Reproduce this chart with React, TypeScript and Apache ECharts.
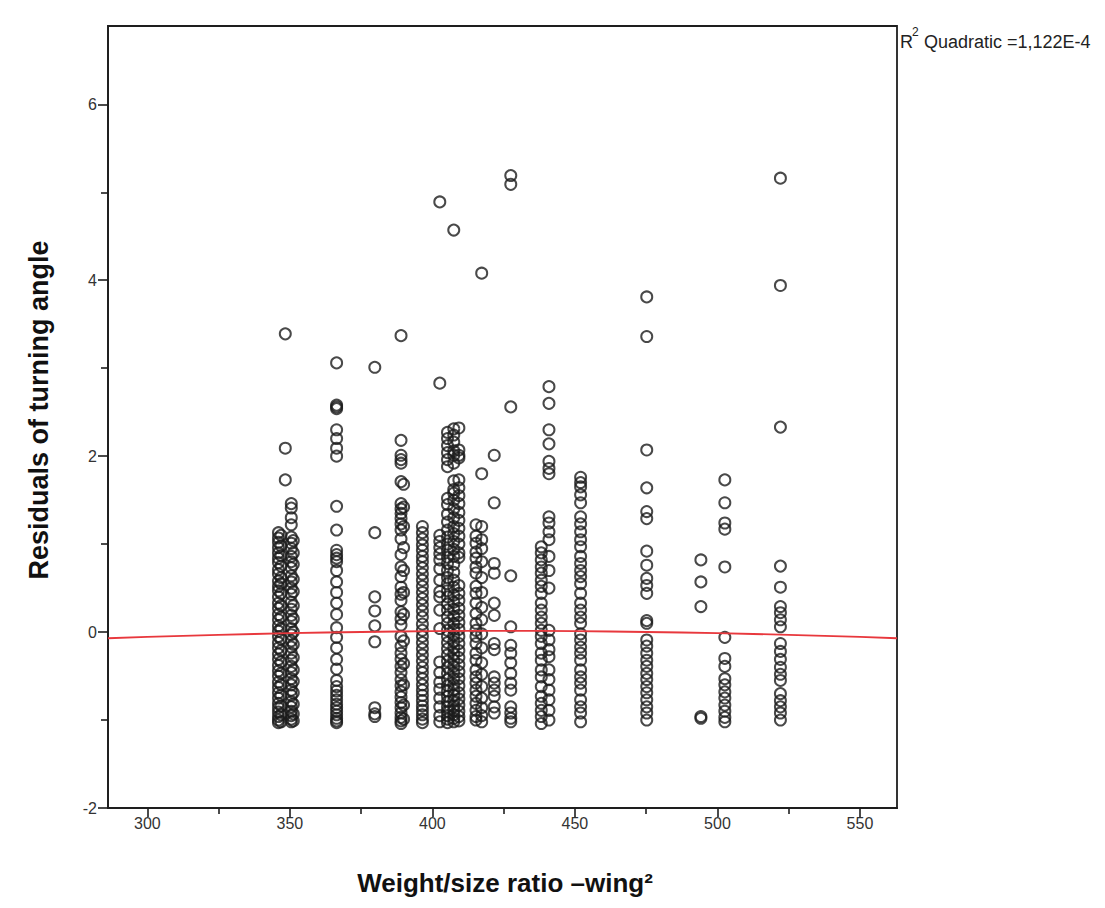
import React, { useEffect, useRef } from "react";
import * as echarts from "echarts";

// ---- axis ticks ----
const xMajorTicks = [300, 350, 400, 450, 500, 550];
const xMinorTicks = [325, 375, 425, 475, 525];
const yMajorTicks = [-2, 0, 2, 4, 6];
const yMinorTicks = [-1, 1, 3, 5];

// ---- residuals, one array per weight/size ratio column ----
const col346 = [1.13, 1.07, 1.02, 0.96, 0.9, 0.84, 0.79, 0.71, 0.66, 0.58, 0.52, 0.47, 0.4, 0.33, 0.27, 0.2, 0.14, 0.07, 0.01, -0.05, -0.12, -0.18, -0.25, -0.31, -0.38, -0.44, -0.5, -0.57, -0.63, -0.69, -0.75, -0.81, -0.86, -0.91, -0.96, -1.0, -1.03];
const col347 = [1.1, 0.98, 0.87, 0.75, 0.62, 0.55, 0.44, 0.3, 0.17, 0.04, -0.08, -0.21, -0.34, -0.47, -0.6, -0.72, -0.84, -0.94, -1.02];
const col348 = [3.39, 2.09, 1.73];
const col350 = [1.46, 1.41, 1.3, 1.22, 1.08, 1.01, 0.95, 0.86, 0.8, 0.73, 0.64, 0.57, 0.5, 0.43, 0.34, 0.26, 0.19, 0.12, 0.04, -0.03, -0.1, -0.17, -0.24, -0.32, -0.39, -0.46, -0.53, -0.6, -0.66, -0.72, -0.79, -0.85, -0.9, -0.95, -0.99, -1.02];
const col351 = [1.04, 0.9, 0.77, 0.6, 0.46, 0.3, 0.15, 0.0, -0.14, -0.29, -0.43, -0.56, -0.69, -0.82, -0.93, -1.01];
const col366 = [3.06, 2.58, 2.56, 2.54, 2.3, 2.2, 2.09, 2.0, 1.43, 1.16, 0.93, 0.88, 0.84, 0.8, 0.7, 0.57, 0.45, 0.33, 0.2, 0.05, -0.06, -0.18, -0.31, -0.42, -0.55, -0.62, -0.67, -0.72, -0.77, -0.82, -0.86, -0.9, -0.94, -0.98, -1.01, -1.03];
const col380 = [3.01, 1.13, 0.4, 0.24, 0.07, -0.11, -0.86, -0.93, -0.96];
const col389 = [3.37, 2.18, 2.01, 1.96, 1.92, 1.71, 1.46, 1.4, 1.35, 1.29, 1.23, 1.16, 1.06, 0.88, 0.74, 0.63, 0.51, 0.43, 0.36, 0.23, 0.15, 0.08, -0.05, -0.16, -0.24, -0.31, -0.39, -0.46, -0.54, -0.61, -0.68, -0.74, -0.8, -0.86, -0.92, -0.97, -1.01, -1.04];
const col390 = [1.68, 1.42, 1.2, 0.96, 0.7, 0.45, 0.2, -0.1, -0.36, -0.6, -0.83, -0.99];
const col396 = [1.2, 1.13, 1.06, 0.99, 0.93, 0.86, 0.8, 0.73, 0.66, 0.59, 0.52, 0.45, 0.38, 0.31, 0.24, 0.17, 0.09, 0.02, -0.05, -0.12, -0.19, -0.26, -0.33, -0.4, -0.46, -0.53, -0.6, -0.66, -0.72, -0.78, -0.84, -0.89, -0.94, -0.99, -1.03];
const col402 = [4.89, 2.83, 1.1, 1.03, 0.96, 0.89, 0.82, 0.72, 0.59, 0.46, 0.4, 0.25, 0.04, -0.34, -0.46, -0.57, -0.65, -0.75, -0.85, -0.95, -1.02];
const col405 = [2.27, 2.2, 2.12, 2.04, 1.96, 1.88, 1.52, 1.45, 1.34, 1.25, 1.16, 1.08, 1.0, 0.93, 0.85, 0.78, 0.7, 0.62, 0.55, 0.47, 0.4, 0.32, 0.25, 0.17, 0.1, 0.02, -0.05, -0.12, -0.19, -0.26, -0.33, -0.4, -0.47, -0.54, -0.61, -0.67, -0.73, -0.79, -0.85, -0.9, -0.95, -0.99, -1.03];
const col407 = [4.57, 2.31, 2.24, 2.16, 2.06, 2.01, 1.92, 1.72, 1.62, 1.58, 1.5, 1.4, 1.3, 1.2, 1.12, 1.03, 0.94, 0.86, 0.77, 0.68, 0.59, 0.51, 0.42, 0.34, 0.26, 0.18, 0.1, 0.03, -0.04, -0.11, -0.18, -0.25, -0.32, -0.39, -0.46, -0.53, -0.6, -0.66, -0.72, -0.78, -0.84, -0.89, -0.94, -0.98, -1.02];
const col409 = [2.32, 2.07, 2.01, 1.98, 1.73, 1.64, 1.55, 1.46, 1.36, 1.27, 1.18, 1.09, 1.0, 0.9, 0.85, 0.53, 0.44, 0.36, 0.27, 0.19, 0.11, 0.03, -0.05, -0.13, -0.21, -0.29, -0.37, -0.45, -0.53, -0.61, -0.69, -0.76, -0.83, -0.9, -0.96, -1.01];
const col415 = [1.22, 1.09, 1.01, 0.91, 0.84, 0.74, 0.67, 0.52, 0.44, 0.33, 0.21, 0.1, 0.02, -0.05, -0.13, -0.24, -0.32, -0.43, -0.51, -0.58, -0.66, -0.73, -0.81, -0.89, -0.96, -1.0];
const col417 = [4.08, 1.8, 1.2, 1.05, 0.95, 0.8, 0.62, 0.45, 0.28, 0.14, -0.02, -0.18, -0.35, -0.48, -0.62, -0.75, -0.86, -0.95, -1.02];
const col422 = [2.01, 1.47, 0.78, 0.67, 0.33, 0.19, -0.13, -0.2, -0.51, -0.58, -0.66, -0.73, -0.85, -0.92];
const col428 = [5.19, 5.09, 2.56, 0.64, 0.06, -0.15, -0.24, -0.35, -0.47, -0.58, -0.66, -0.85, -0.92, -0.98, -1.02];
const col438 = [0.97, 0.9, 0.82, 0.74, 0.67, 0.59, 0.52, 0.44, 0.33, 0.25, 0.17, 0.1, 0.02, -0.05, -0.13, -0.24, -0.32, -0.43, -0.51, -0.62, -0.73, -0.81, -0.89, -0.96, -1.04];
const col441 = [2.79, 2.6, 2.3, 2.14, 1.94, 1.86, 1.8, 1.31, 1.24, 1.14, 1.05, 0.86, 0.7, 0.5, 0.02, -0.09, -0.2, -0.28, -0.43, -0.54, -0.66, -0.77, -0.89, -1.0];
const col452 = [1.76, 1.7, 1.65, 1.56, 1.47, 1.31, 1.23, 1.14, 1.05, 0.97, 0.86, 0.78, 0.7, 0.63, 0.55, 0.44, 0.33, 0.25, 0.17, 0.1, -0.02, -0.09, -0.17, -0.24, -0.32, -0.43, -0.51, -0.58, -0.66, -0.77, -0.85, -0.92, -1.02];
const col475 = [3.81, 3.36, 2.07, 1.64, 1.37, 1.29, 0.92, 0.76, 0.61, 0.53, 0.44, 0.13, 0.1, -0.09, -0.16, -0.24, -0.32, -0.39, -0.47, -0.54, -0.62, -0.69, -0.77, -0.85, -0.92, -1.0];
const col494 = [0.82, 0.57, 0.29, -0.96, -0.98];
const col503 = [1.73, 1.47, 1.24, 1.17, 0.74, -0.06, -0.3, -0.39, -0.53, -0.6, -0.68, -0.75, -0.83, -0.9, -0.97, -1.02];
const col522 = [5.16, 3.94, 2.33, 0.75, 0.51, 0.29, 0.22, 0.14, 0.06, -0.13, -0.22, -0.31, -0.4, -0.48, -0.55, -0.7, -0.78, -0.85, -0.92, -1.0];

const columnX = [346, 346.9, 348.4, 350.5, 351.2, 366.4, 379.8, 389, 389.9, 396.5, 402.6, 405.3, 407.5, 409.3, 415.3, 417.3, 421.7, 427.5, 438.2, 440.9, 452, 475.2, 494.2, 502.6, 522.1];
const columnValues = [col346, col347, col348, col350, col351, col366, col380, col389, col390, col396, col402, col405, col407, col409, col415, col417, col422, col428, col438, col441, col452, col475, col494, col503, col522];

// ---- quadratic fit line ----
const fitX = [286.2, 300, 325, 350, 375, 400, 425, 450, 475, 500, 525, 550, 563];
const fitY = [-0.07, -0.055, -0.032, -0.013, 0.001, 0.01, 0.013, 0.01, 0.001, -0.013, -0.032, -0.055, -0.07];

const FONT = "'Liberation Sans', Arial, Helvetica, sans-serif";

export default function App() {
  const ref = useRef<HTMLDivElement>(null);

  useEffect(() => {
    if (!ref.current) return;
    const chart = echarts.init(ref.current, undefined, { renderer: "svg" });

    const points: number[][] = [];
    columnX.forEach((x, i) => {
      columnValues[i].forEach((v) => points.push([x, v]));
    });
    const fit = fitX.map((x, i) => [x, fitY[i]]);

    const xMin = 286.2;
    const xMax = 563;
    const yMin = -2;
    const yMax = 6.89;
    const axisColor = "#1e1e1e";

    chart.setOption({
      animation: false,
      backgroundColor: "#ffffff",
      grid: {
        left: 108,
        right: 208,
        top: 26,
        bottom: 100,
        show: true,
        borderColor: axisColor,
        borderWidth: 1.8,
        backgroundColor: "transparent",
      },
      xAxis: [
        {
          type: "value",
          min: xMin,
          max: xMax,
          position: "bottom",
          axisLine: { show: true, onZero: false, lineStyle: { color: axisColor, width: 1.8 } },
          axisTick: {
            show: true,
            customValues: xMajorTicks,
            length: 9,
            lineStyle: { color: axisColor, width: 1.6 },
          },
          axisLabel: {
            customValues: xMajorTicks,
            color: "#333",
            fontSize: 16,
            fontFamily: FONT,
            margin: 7,
          },
          splitLine: { show: false },
        },
        {
          type: "value",
          min: xMin,
          max: xMax,
          position: "bottom",
          axisLine: { show: false, onZero: false },
          axisTick: {
            show: true,
            customValues: xMinorTicks,
            length: 6,
            lineStyle: { color: axisColor, width: 1.6 },
          },
          axisLabel: { show: false },
          splitLine: { show: false },
        },
      ],
      yAxis: [
        {
          type: "value",
          min: yMin,
          max: yMax,
          position: "left",
          axisLine: { show: true, onZero: false, lineStyle: { color: axisColor, width: 1.8 } },
          axisTick: {
            show: true,
            customValues: yMajorTicks,
            length: 10,
            lineStyle: { color: axisColor, width: 1.6 },
          },
          axisLabel: {
            customValues: yMajorTicks,
            color: "#333",
            fontSize: 16,
            fontFamily: FONT,
            margin: 11,
          },
          splitLine: { show: false },
        },
        {
          type: "value",
          min: yMin,
          max: yMax,
          position: "left",
          axisLine: { show: false, onZero: false },
          axisTick: {
            show: true,
            customValues: yMinorTicks,
            length: 7,
            lineStyle: { color: axisColor, width: 1.6 },
          },
          axisLabel: { show: false },
          splitLine: { show: false },
        },
      ],
      series: [
        {
          type: "scatter",
          xAxisIndex: 0,
          yAxisIndex: 0,
          data: points,
          symbol: "circle",
          symbolSize: 11,
          itemStyle: { color: "rgba(255,255,255,0)", borderColor: "#1c1c1c", borderWidth: 2 },
          emphasis: { disabled: true },
          z: 3,
        },
        {
          type: "line",
          xAxisIndex: 0,
          yAxisIndex: 0,
          data: fit,
          smooth: true,
          showSymbol: false,
          symbol: "none",
          lineStyle: { color: "#e8383d", width: 1.8 },
          z: 4,
        },
      ],
      graphic: [
        {
          type: "text",
          x: 39,
          y: 410,
          rotation: Math.PI / 2,
          style: {
            text: "Residuals of turning angle",
            fontFamily: FONT,
            fontWeight: "bold",
            fontSize: 27,
            fill: "#111",
            align: "center",
            verticalAlign: "middle",
          },
        },
        {
          type: "text",
          x: 505,
          y: 883,
          style: {
            text: "Weight/size ratio –wing²",
            fontFamily: FONT,
            fontWeight: "bold",
            fontSize: 26,
            fill: "#111",
            align: "center",
            verticalAlign: "middle",
          },
        },
        {
          type: "text",
          x: 900,
          y: 42,
          style: {
            text: "R",
            fontFamily: FONT,
            fontSize: 18,
            fill: "#222",
            align: "left",
            verticalAlign: "middle",
          },
        },
        {
          type: "text",
          x: 912,
          y: 32,
          style: {
            text: "2",
            fontFamily: FONT,
            fontSize: 12,
            fill: "#222",
            align: "left",
            verticalAlign: "middle",
          },
        },
        {
          type: "text",
          x: 919,
          y: 42,
          style: {
            text: " Quadratic =1,122E-4",
            fontFamily: FONT,
            fontSize: 18,
            fill: "#222",
            align: "left",
            verticalAlign: "middle",
          },
        },
      ],
    });

    return () => chart.dispose();
  }, []);

  return (
    <div
      ref={ref}
      style={{ position: "absolute", left: 0, top: 0, width: 1105, height: 908, background: "#fff" }}
    />
  );
}
